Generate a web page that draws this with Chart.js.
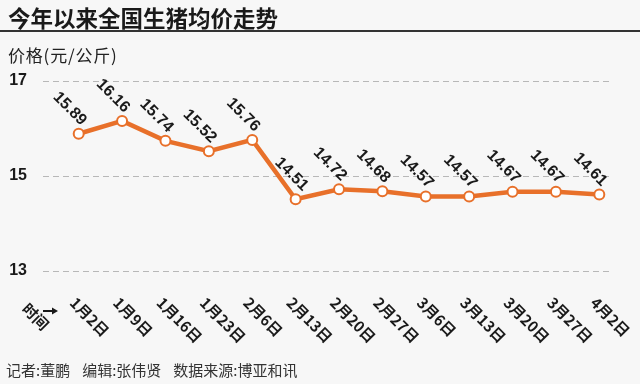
<!DOCTYPE html>
<html>
<head>
<meta charset="utf-8">
<script src="https://cdn.jsdelivr.net/npm/chart.js@4/dist/chart.umd.min.js"></script>
<style>
  html, body { margin: 0; padding: 0; background: #f7f7f7; }
  #wrap { position: relative; width: 640px; height: 384px; overflow: hidden; }
  #chart { position: absolute; left: 0; top: 0; }
  .txt { position: absolute; font-family: "Noto Sans CJK SC", sans-serif; color: #222; white-space: nowrap; }
  #title { left: 8px; top: 6px; font-size: 22.5px; line-height: 22px; font-weight: bold; color: #1a1a1a; }
  #rule { position: absolute; left: 0; top: 30px; width: 640px; height: 2px; background: #333; }
  #unit { left: 8px; top: 46px; font-size: 17px; line-height: 17px; letter-spacing: 0.8px; }
  #foot { left: 6px; top: 362px; font-size: 15px; line-height: 15px; color: #333; }
  #foot span { margin-right: 12px; }
</style>
</head>
<body>
<div id="wrap">
  <canvas id="chart" width="640" height="384"></canvas>
  <div id="title" class="txt">今年以来全国生猪均价走势</div>
  <div id="rule"></div>
  <div id="unit" class="txt">价格(元/公斤)</div>
  <div id="foot" class="txt"><span>记者:董鹏</span><span>编辑:张伟贤</span>数据来源:博亚和讯</div>
</div>
<script>
// chart data
const dates = ['1月2日', '1月9日', '1月16日', '1月23日', '2月6日', '2月13日', '2月20日',
               '2月27日', '3月6日', '3月13日', '3月20日', '3月27日', '4月2日'];
const prices = [15.89, 16.16, 15.74, 15.52, 15.76, 14.51, 14.72, 14.68, 14.57, 14.57, 14.67, 14.67, 14.61];
const yTicks = [13, 15, 17];

const numFont = '"Liberation Sans Narrow", "Liberation Sans", Arial, sans-serif';
const cjkFont = '"Liberation Sans Narrow", "Noto Sans CJK SC", sans-serif';
const orange = '#e8702a';

// dashed horizontal grid lines, a bit wider than the plot
const gridPlugin = {
    id: 'dashGrid',
    beforeDatasetsDraw(chart) {
        const ctx = chart.ctx;
        const y = chart.scales.y;
        ctx.save();
        ctx.strokeStyle = '#b8b8b8';
        ctx.lineWidth = 1;
        ctx.setLineDash([6, 4]);
        yTicks.forEach((t) => {
            const py = Math.round(y.getPixelForValue(t)) + 0.5;
            ctx.beginPath();
            ctx.moveTo(43, py);
            ctx.lineTo(613, py);
            ctx.stroke();
        });
        ctx.restore();
    },
};

// rotated value labels and date labels
const labelPlugin = {
    id: 'rotLabels',
    afterDraw(chart) {
        const ctx = chart.ctx;
        const xs = chart.scales.x;
        const meta = chart.getDatasetMeta(0);
        ctx.save();

        // values above points
        ctx.fillStyle = '#1a1a1a';
        ctx.font = 'bold 16px ' + numFont;
        ctx.textAlign = 'center';
        ctx.textBaseline = 'middle';
        meta.data.forEach((pt, i) => {
            // the big drop point gets its label nudged off the line
            const dx = i === 5 ? -4 : -9;
            ctx.save();
            ctx.translate(pt.x + dx, pt.y - 25);
            ctx.rotate(Math.PI / 4);
            ctx.fillText(prices[i].toFixed(2), 0, 0);
            ctx.restore();
        });

        // dates under the axis
        ctx.font = 'bold 15px ' + cjkFont;
        ctx.textAlign = 'left';
        dates.forEach((d, i) => {
            const px = xs.getPixelForValue(i);
            ctx.save();
            ctx.translate(px - 6, 300);
            ctx.rotate(Math.PI / 4);
            ctx.fillText(d, 0, 0);
            ctx.restore();
        });

        // axis name with arrow
        ctx.save();
        ctx.translate(25, 306);
        ctx.rotate(Math.PI / 4);
        ctx.fillText('时间', 0, 0);
        ctx.restore();
        ctx.strokeStyle = '#1a1a1a';
        ctx.lineWidth = 2;
        ctx.beginPath();
        ctx.moveTo(43, 311);
        ctx.lineTo(53, 311);
        ctx.stroke();
        ctx.beginPath();
        ctx.moveTo(58, 311);
        ctx.lineTo(52, 307.5);
        ctx.lineTo(52, 314.5);
        ctx.closePath();
        ctx.fill();

        ctx.restore();
    },
};

new Chart(document.getElementById('chart'), {
    type: 'line',
    data: {
        labels: dates,
        datasets: [{
            data: prices,
            borderColor: orange,
            borderWidth: 4.5,
            pointRadius: 5,
            pointBorderWidth: 2,
            pointBackgroundColor: '#ffffff',
            pointBorderColor: orange,
            tension: 0,
            fill: false,
        }],
    },
    options: {
        responsive: false,
        animation: false,
        layout: { padding: { left: 0, right: 19, top: 81, bottom: 113 } },
        plugins: {
            legend: { display: false },
            tooltip: { enabled: false },
        },
        scales: {
            x: {
                display: false,
                offset: true,
            },
            y: {
                min: 13,
                max: 17,
                afterFit: (scale) => { scale.width = 57; },
                afterBuildTicks: (scale) => { scale.ticks = yTicks.map((v) => ({ value: v })); },
                grid: { display: false },
                border: { display: false },
                ticks: {
                    padding: 22,
                    color: '#1a1a1a',
                    font: { family: numFont, size: 16, weight: 'bold' },
                },
            },
        },
    },
    plugins: [gridPlugin, labelPlugin],
});
</script>
</body>
</html>
